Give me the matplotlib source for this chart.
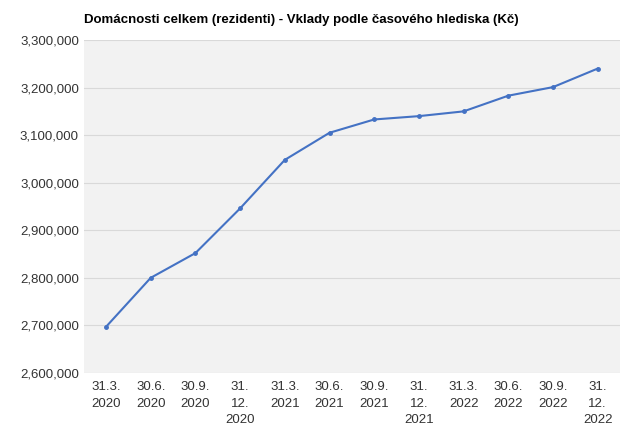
import matplotlib.pyplot as plt
from matplotlib.ticker import FuncFormatter

plt.rcParams['font.family'] = ['Liberation Sans', 'DejaVu Sans']

labels = ["31.3.\n2020", "30.6.\n2020", "30.9.\n2020", "31.\n12.\n2020",
          "31.3.\n2021", "30.6.\n2021", "30.9.\n2021", "31.\n12.\n2021",
          "31.3.\n2022", "30.6.\n2022", "30.9.\n2022", "31.\n12.\n2022"]
values = [2697000, 2800000, 2852000, 2946000, 3048000, 3105000,
          3133000, 3140000, 3150000, 3183000, 3201000, 3240000]

fig = plt.figure(figsize=(6.2, 4.45), dpi=100)
ax = fig.add_axes([0.135, 0.162, 0.865, 0.748])
ax.set_facecolor('#f2f2f2')
x = range(len(values))
ax.plot(x, values, color='#4472c4', lw=1.5, marker='o', ms=2.5)
ax.set_xlim(-0.5, len(values) - 0.5)
ax.set_ylim(2600000, 3300000)
ax.set_yticks(range(2600000, 3300001, 100000))
ax.yaxis.set_major_formatter(FuncFormatter(lambda v, p: f"{int(v):,}"))
ax.set_xticks(list(x))
ax.set_xticklabels(labels, fontsize=9.5, color='#333333', va='top', linespacing=1.5)
ax.tick_params(axis='y', labelsize=9.5, colors='#333333', length=0)
ax.tick_params(axis='x', length=0, pad=6)
ax.grid(axis='y', color='#d9d9d9', lw=0.8)
for s in ax.spines.values():
    s.set_visible(False)
fig.text(0.135, 0.955, "Domácnosti celkem (rezidenti) - Vklady podle časového hlediska (Kč)",
         fontsize=9.5, fontweight='bold', va='center')
fig.savefig('out.png')
